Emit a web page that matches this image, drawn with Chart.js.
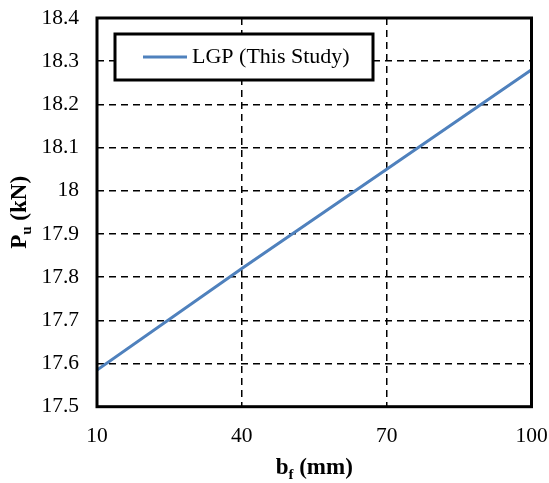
<!DOCTYPE html>
<html>
<head>
<meta charset="utf-8">
<script src="https://cdn.jsdelivr.net/npm/chart.js@4"></script>
<style>
html,body{margin:0;padding:0;background:#fff;}
#wrap{width:549px;height:483px;position:relative;}
</style>
</head>
<body>
<div id="wrap"><canvas id="c" width="549" height="483"></canvas></div>
<script>
const bfValues = [10, 40, 70, 100];
const puValues = [17.585, 17.82, 18.05, 18.28];
const seriesLabel = 'LGP (This Study)';
const xTitleMain = 'b', xTitleSub = 'f', xTitleRest = ' (mm)';
const yTitleMain = 'P', yTitleSub = 'u', yTitleRest = ' (kN)';

const SERIF = '"Liberation Serif", "Times New Roman", serif';
const lineColor = 'rgb(79,129,189)';

const plotLeft = 97, plotRight = 531.5, plotTop = 18, plotBottom = 406.7;

function drawSubText(ctx, x, y, parts, size) {
  ctx.font = 'bold ' + size + 'px ' + SERIF;
  const w1 = ctx.measureText(parts[0]).width;
  ctx.font = 'bold ' + Math.round(size * 0.65) + 'px ' + SERIF;
  const w2 = ctx.measureText(parts[1]).width;
  ctx.font = 'bold ' + size + 'px ' + SERIF;
  const w3 = ctx.measureText(parts[2]).width;
  let cx = x - (w1 + w2 + w3) / 2;
  ctx.textBaseline = 'alphabetic';
  ctx.textAlign = 'left';
  ctx.fillText(parts[0], cx, y); cx += w1;
  ctx.font = 'bold ' + Math.round(size * 0.65) + 'px ' + SERIF;
  ctx.fillText(parts[1], cx, y + size * 0.2); cx += w2;
  ctx.font = 'bold ' + size + 'px ' + SERIF;
  ctx.fillText(parts[2], cx, y);
}

const decor = {
  id: 'decor',
  afterDatasetsDraw(chart) {
    const ctx = chart.ctx;
    const a = chart.chartArea;
    ctx.save();
    ctx.strokeStyle = '#000';
    ctx.lineWidth = 3;
    ctx.strokeRect(a.left, a.top, a.right - a.left, a.bottom - a.top);
    // legend
    ctx.fillStyle = '#fff';
    ctx.fillRect(115, 34, 258, 46);
    ctx.lineWidth = 3;
    ctx.strokeRect(115, 34, 258, 46);
    ctx.strokeStyle = lineColor;
    ctx.lineWidth = 3;
    ctx.beginPath(); ctx.moveTo(143, 57); ctx.lineTo(187, 57); ctx.stroke();
    ctx.fillStyle = '#000';
    ctx.font = '22px ' + SERIF;
    ctx.textAlign = 'left';
    ctx.textBaseline = 'middle';
    ctx.fillText(seriesLabel, 192, 57);
    // axis titles
    ctx.fillStyle = '#000';
    drawSubText(ctx, (a.left + a.right) / 2, 474, [xTitleMain, xTitleSub, xTitleRest], 23);
    ctx.translate(26, (a.top + a.bottom) / 2);
    ctx.rotate(-Math.PI / 2);
    drawSubText(ctx, 0, 0, [yTitleMain, yTitleSub, yTitleRest], 23);
    ctx.restore();
  }
};

new Chart(document.getElementById('c'), {
  type: 'line',
  data: {
    datasets: [{
      label: seriesLabel,
      data: bfValues.map((x, i) => ({x: x, y: puValues[i]})),
      borderColor: lineColor,
      borderWidth: 3,
      pointRadius: 0,
      fill: false,
      tension: 0
    }]
  },
  options: {
    responsive: false,
    animation: false,
    layout: {padding: {left: 0, right: 549 - plotRight, top: plotTop, bottom: 0}},
    plugins: {legend: {display: false}, tooltip: {enabled: false}},
    scales: {
      x: {
        type: 'linear', min: 10, max: 100,
        ticks: {stepSize: 30, color: '#000', font: {family: SERIF, size: 21.5}, padding: 17, maxRotation: 0},
        grid: {color: '#000', lineWidth: 1.5, drawTicks: false},
        border: {display: false, dash: [7, 5]},
        afterFit(s) { s.height = 483 - plotBottom; s.paddingLeft = 0; s.paddingRight = 0; }
      },
      y: {
        min: 17.5, max: 18.4,
        ticks: {stepSize: 0.1, color: '#000', font: {family: SERIF, size: 21.5}, padding: 18,
          callback: v => String(parseFloat(v.toFixed(1)))},
        grid: {color: '#000', lineWidth: 1.5, drawTicks: false},
        border: {display: false, dash: [7, 5]},
        afterFit(s) { s.width = plotLeft; s.paddingTop = 0; s.paddingBottom = 0; }
      }
    }
  },
  plugins: [decor]
});
</script>
</body>
</html>
